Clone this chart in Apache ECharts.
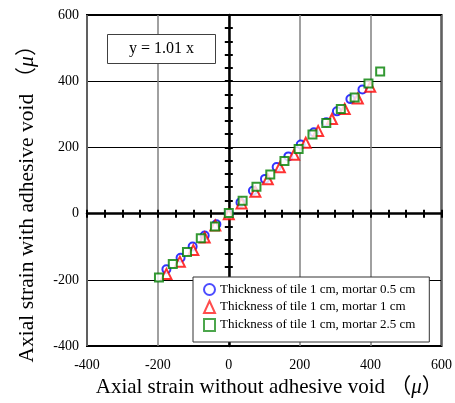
<!DOCTYPE html>
<html>
<head>
<meta charset="utf-8">
<script src="https://cdn.jsdelivr.net/npm/echarts@6/dist/echarts.min.js"></script>
<style>
  html, body { margin: 0; padding: 0; background: #fff; }
  #chart { width: 455px; height: 403px; }
</style>
</head>
<body>
<div id="chart"></div>
<script>
// data: [x, y] in micro strain
const seriesNames = [
  'Thickness of tile 1 cm, mortar 0.5 cm',
  'Thickness of tile 1 cm, mortar 1 cm',
  'Thickness of tile 1 cm, mortar 2.5 cm'
]
const mortar05 = [[-176, -168], [-136, -133], [-102, -99], [-68, -66], [-35, -32], [0, 0],
  [33, 34], [68, 69], [102, 105], [135, 141], [168, 173], [203, 209], [240, 246],
  [275, 276], [305, 309], [343, 346], [377, 375]]
const mortar1 = [[-176, -182], [-138, -145], [-100, -110], [-68, -72], [-38, -36], [0, -2],
  [36, 31], [75, 66], [110, 104], [144, 140], [184, 178], [217, 214], [252, 250],
  [291, 286], [327, 316], [364, 348], [399, 383]]
const mortar25 = [[-197, -193], [-158, -152], [-118, -116], [-79, -74], [-39, -39], [0, 2],
  [39, 39], [78, 81], [117, 118], [157, 159], [197, 195], [236, 239], [275, 274],
  [316, 316], [355, 351], [394, 393], [427, 429]]
const fitLabel = 'y = 1.01 x'

const serif = "'Liberation Serif', 'Times New Roman', 'Noto Sans CJK SC', serif"
const colors = ['#0000ff', '#ff0000', '#008000']
const symbols = ['emptyCircle', 'emptyTriangle', 'emptyRect']
const sizes = [8, 10, 8]

const myChart = echarts.init(document.getElementById('chart'))

// frame axis with labels + two zero-crossing axes for the ticks (inside / outside)
function xAxes() {
  const base = { type: 'value', min: -400, max: 600, position: 'bottom' }
  return [
    Object.assign({}, base, {
      interval: 200,
      axisLine: { show: false, onZero: false },
      axisTick: { show: false },
      axisLabel: { fontFamily: serif, fontSize: 14, color: '#000', margin: 12 },
      splitLine: { show: true, lineStyle: { color: '#808080', width: 1.5 } },
      name: 'Axial strain without adhesive void （{i|μ}）',
      nameLocation: 'middle',
      nameGap: 28,
      nameTextStyle: {
        fontFamily: serif, fontSize: 21, color: '#000', padding: [0, 0, 0, 10],
        rich: { i: { fontFamily: serif, fontSize: 21, fontStyle: 'italic' } }
      }
    }),
    Object.assign({}, base, {
      interval: 50,
      axisLine: { show: true, onZero: true, onZeroAxisIndex: 0, lineStyle: { color: '#000', width: 2.5 } },
      axisTick: { show: true, inside: true, length: 4, lineStyle: { color: '#000', width: 2 } },
      axisLabel: { show: false },
      splitLine: { show: false }
    }),
    Object.assign({}, base, {
      interval: 50,
      axisLine: { show: false, onZero: true, onZeroAxisIndex: 0 },
      axisTick: { show: true, inside: false, length: 4, lineStyle: { color: '#000', width: 2 } },
      axisLabel: { show: false },
      splitLine: { show: false }
    })
  ]
}

function yAxes() {
  const base = { type: 'value', min: -400, max: 600, position: 'left' }
  return [
    Object.assign({}, base, {
      interval: 200,
      axisLine: { show: false, onZero: false },
      axisTick: { show: false },
      axisLabel: { fontFamily: serif, fontSize: 14, color: '#000', margin: 8 },
      splitLine: { show: true, lineStyle: { color: '#000', width: 1 } },
      name: 'Axial strain with adhesive void （{i|μ}）',
      nameLocation: 'middle',
      nameGap: 49,
      nameTextStyle: {
        fontFamily: serif, fontSize: 21.5, color: '#000', padding: [0, 36, 0, 0],
        rich: { i: { fontFamily: serif, fontSize: 21.5, fontStyle: 'italic' } }
      }
    }),
    Object.assign({}, base, {
      interval: 40,
      axisLine: { show: true, onZero: true, onZeroAxisIndex: 0, lineStyle: { color: '#000', width: 2.5 } },
      axisTick: { show: true, inside: true, length: 4, lineStyle: { color: '#000', width: 2 } },
      axisLabel: { show: false },
      splitLine: { show: false }
    }),
    Object.assign({}, base, {
      interval: 40,
      axisLine: { show: false, onZero: true, onZeroAxisIndex: 0 },
      axisTick: { show: true, inside: false, length: 4, lineStyle: { color: '#000', width: 2 } },
      axisLabel: { show: false },
      splitLine: { show: false }
    })
  ]
}

const dataSets = [mortar05, mortar1, mortar25]

const option = {
  animation: false,
  backgroundColor: '#fff',
  grid: {
    left: 87, top: 15, right: 13, bottom: 54,
    show: true, borderColor: '#000', borderWidth: 2
  },
  title: {
    text: fitLabel,
    left: 107, top: 34,
    padding: [7, 22, 7, 22],
    backgroundColor: '#fff',
    borderColor: '#404040',
    borderWidth: 1,
    textStyle: { fontFamily: serif, fontSize: 16, fontWeight: 'normal', color: '#000' }
  },
  legend: {
    orient: 'vertical',
    left: 193, top: 277,
    padding: [6, 14, 10, 10],
    itemGap: 4,
    itemWidth: 11,
    itemHeight: 12,
    backgroundColor: '#fff',
    borderColor: '#333',
    borderWidth: 1,
    borderRadius: 0,
    textStyle: { fontFamily: serif, fontSize: 13, color: '#000' },
    data: seriesNames.map((n, i) => ({
      name: n,
      icon: symbols[i],
      itemStyle: { color: colors[i], borderColor: colors[i], borderWidth: 1, opacity: 0.7 }
    }))
  },
  xAxis: xAxes(),
  yAxis: yAxes(),
  series: dataSets.map((d, i) => ({
    name: seriesNames[i],
    type: 'scatter',
    symbol: symbols[i],
    symbolSize: sizes[i],
    itemStyle: { color: colors[i], borderColor: colors[i], borderWidth: 2 },
    data: d,
    z: 3 + i
  }))
}
myChart.setOption(option)
</script>
</body>
</html>
